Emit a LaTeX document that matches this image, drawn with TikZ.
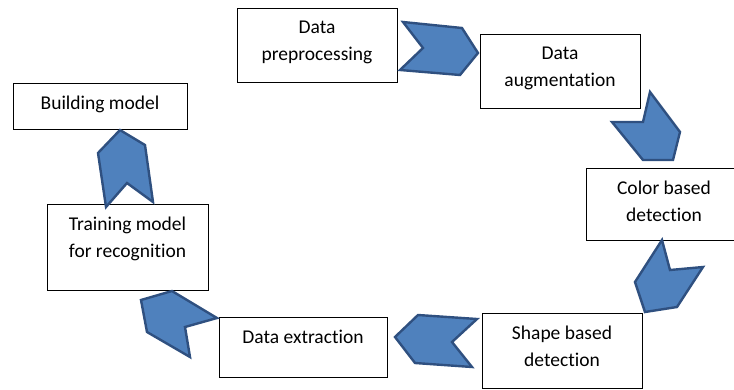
\documentclass[tikz,border=0pt]{standalone}
\usepackage{fontspec}
\setmainfont{Carlito}[RawFeature={-liga,-clig,-dlig}]
\definecolor{chevfill}{HTML}{4F81BD}
\definecolor{chevline}{HTML}{2F5080}
\begin{document}
\begin{tikzpicture}[x=1pt,y=-1pt,
  box/.style={draw=black, line width=0.8pt, fill=white, inner sep=0pt},
  txt/.style={font=\fontsize{19.5}{27}\selectfont, align=center, anchor=north, inner sep=0pt},
  chev/.style={fill=chevfill, draw=chevline, line width=2.4pt, line join=miter}]
\useasboundingbox (0,0) rectangle (734,389);
\clip (0,0) rectangle (734,389);
\fill[white] (0,0) rectangle (734,389);
% boxes
\node[box, minimum width=160pt, minimum height=74pt] (b1) at (317,45) {};
\node[box, minimum width=160pt, minimum height=74pt] (b2) at (560,71) {};
\node[box, minimum width=156pt, minimum height=72pt] (b3) at (664,204) {};
\node[box, minimum width=160pt, minimum height=75pt] (b4) at (562,350.5) {};
\node[box, minimum width=168pt, minimum height=60pt] (b5) at (303,347) {};
\node[box, minimum width=161pt, minimum height=86pt] (b6) at (127.5,247) {};
\node[box, minimum width=174pt, minimum height=46pt] (b7) at (100,106) {};
% texts
\node[txt] (t1) at ([yshift=-13pt]b1.north) {Data\\preprocessing};
\node[txt] (t2) at ([yshift=-13pt]b2.north) {Data\\augmentation};
\node[txt] (t3) at ([yshift=-13pt]b3.north) {Color based\\detection};
\node[txt] (t4) at ([yshift=-13.5pt]b4.north) {Shape based\\detection};
\node[txt] (t5) at ([yshift=-13.5pt]b5.north) {Data extraction};
\node[txt] (t6) at ([yshift=-13pt]b6.north) {Training model\\for recognition};
\node[txt] (t7) at ([yshift=-13pt]b7.north) {Building model};
% chevrons
\draw[chev] (403,22) -- (462,28) -- (478,53) -- (460,75) -- (400,70) -- (423,48) -- cycle;
\draw[chev] (650,92) -- (680,132) -- (673,160) -- (643,160) -- (612,122) -- (643,122) -- cycle;
\draw[chev] (662,240) -- (670,270) -- (703,267) -- (677,307) -- (645,312) -- (635,282) -- cycle;
\draw[chev] (418,315) -- (477,319) -- (452,342) -- (472,367) -- (415,363) -- (395,337) -- cycle;
\draw[chev] (141,300) -- (172,291) -- (217,318) -- (185,327) -- (190,357) -- (147,332) -- cycle;
\draw[chev] (120,130) -- (145,145) -- (153,202) -- (127,183) -- (106,207) -- (98,153) -- cycle;
\end{tikzpicture}
\end{document}
